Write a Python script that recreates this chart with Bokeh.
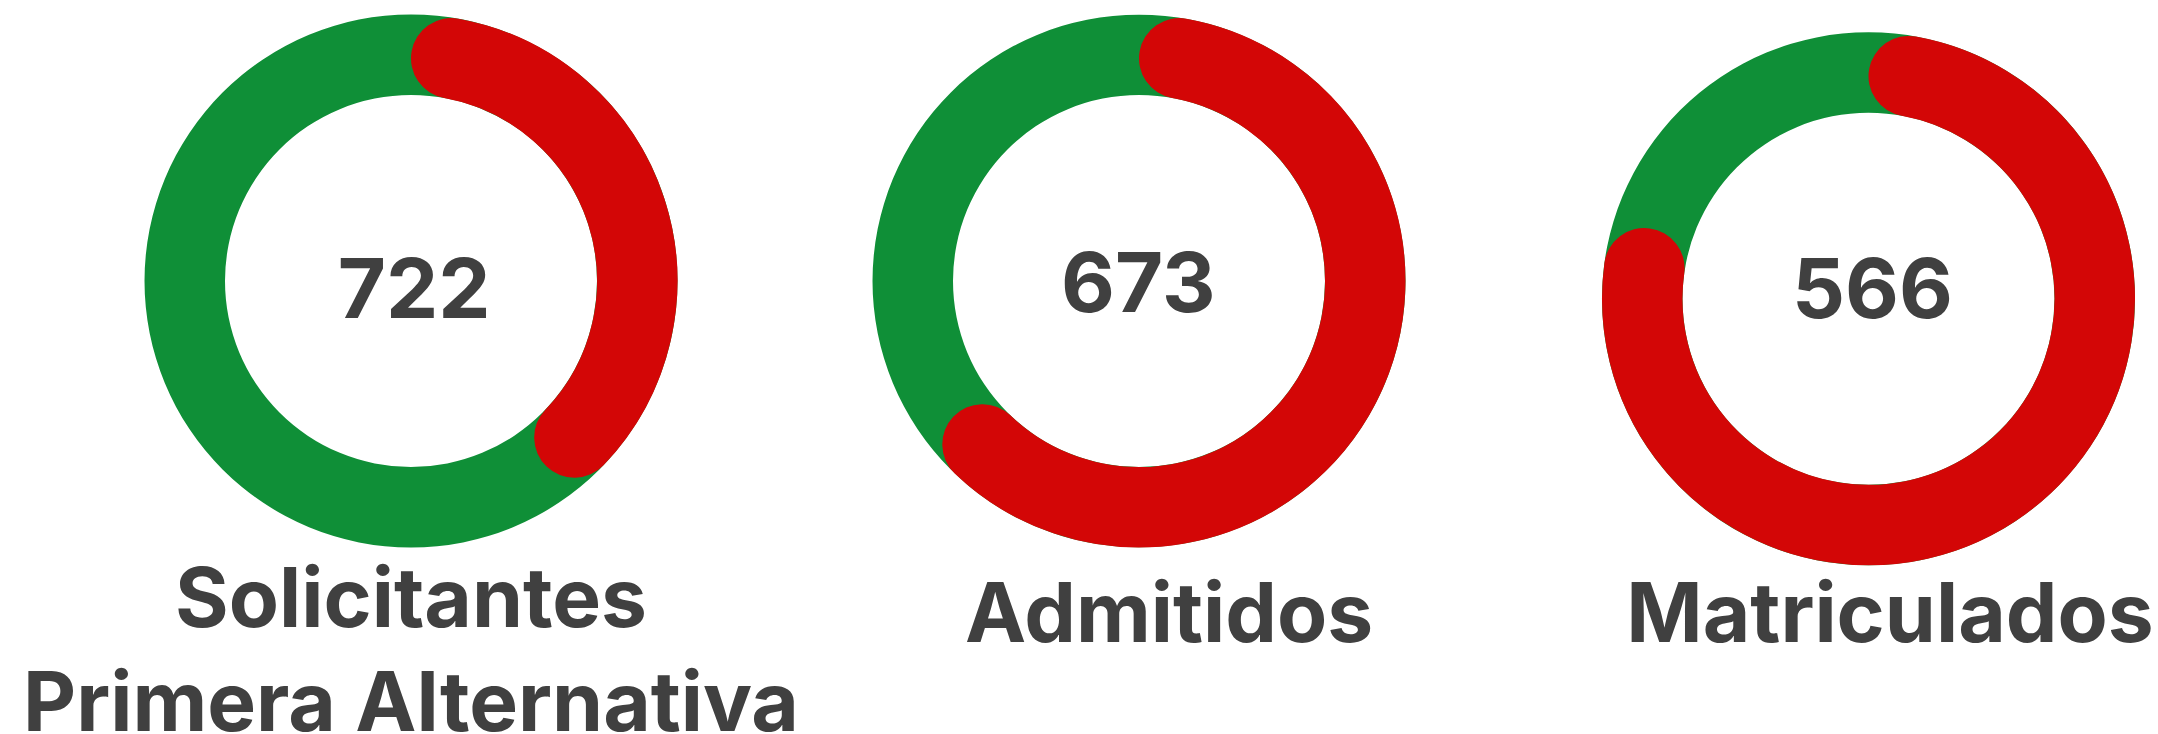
import math
from bokeh.plotting import figure
from bokeh.models import Range1d
from bokeh.core.properties import value
from bokeh.embed import file_html
from bokeh.resources import INLINE

# ---- data ----
values = [722, 673, 566]
labels = ["Solicitantes\nPrimera Alternativa", "Admitidos", "Matriculados"]
percent = [40, 65, 80]

# ---- layout (page pixel coordinates, y measured downward) ----
W, H = 2158, 734
cx = [410.5, 1138.5, 1868.0]
cy = [280.5, 280.5, 298.3]
num_x = [413.6, 1137.8, 1872.0]
num_base = [314.6, 308.6, 314.6]
lab_x = [410.5, 1168.5, 1889.5]
lab_base = [624.0, 639.6, 639.6]
line_gap = 104.4
TEXT_SHIFT = 27.5  # compensation for rendered text baseline position
R_OUT, R_IN = 266.5, 186.0
R_MID = (R_OUT + R_IN) / 2
THICK = R_OUT - R_IN

GREEN = "#0f8f37"
RED = "#d30606"
TEXT = "#404040"
FONT = value("Inter")

def fy(y):
    return H - y

p = figure(width=W, height=H, output_backend="svg", toolbar_location=None,
           x_range=Range1d(0, W), y_range=Range1d(0, H),
           x_axis_location=None, y_axis_location=None, min_border=0)
p.grid.visible = False
p.outline_line_color = None
p.background_fill_color = "white"
p.border_fill_color = "white"

# green full rings
p.annulus(x=cx, y=[fy(v) for v in cy], inner_radius=R_IN, outer_radius=R_OUT,
          fill_color=GREEN, line_color=None)

# red arcs with rounded ends (rounding kept inside the angular extent)
delta = math.asin((THICK / 2) / R_MID)
starts, ends = [], []
for pc in percent:
    theta0 = delta
    theta1 = 2 * math.pi * pc / 100.0 - delta
    starts.append(math.pi / 2 - theta0)
    ends.append(math.pi / 2 - theta1)
p.arc(x=cx, y=[fy(v) for v in cy], radius=R_MID, start_angle=starts, end_angle=ends,
      direction="clock", line_color=RED, line_width=THICK, line_cap="round")

# center numbers
p.text(x=num_x, y=[fy(v - TEXT_SHIFT) for v in num_base], text=[str(v) for v in values],
       text_font=FONT, text_font_style="bold", text_font_size="83px",
       text_color=TEXT, text_align="center", text_baseline="alphabetic")

# labels below
lx, ly, lt = [], [], []
for i, lab in enumerate(labels):
    for j, line in enumerate(lab.split("\n")):
        lx.append(lab_x[i])
        ly.append(fy(lab_base[i] + j * line_gap - TEXT_SHIFT))
        lt.append(line)
p.text(x=lx, y=ly, text=lt, text_font=FONT, text_font_style="bold",
       text_font_size="82px", text_color=TEXT, text_align="center",
       text_baseline="alphabetic")

open("out.html", "w").write(file_html(p, INLINE))
